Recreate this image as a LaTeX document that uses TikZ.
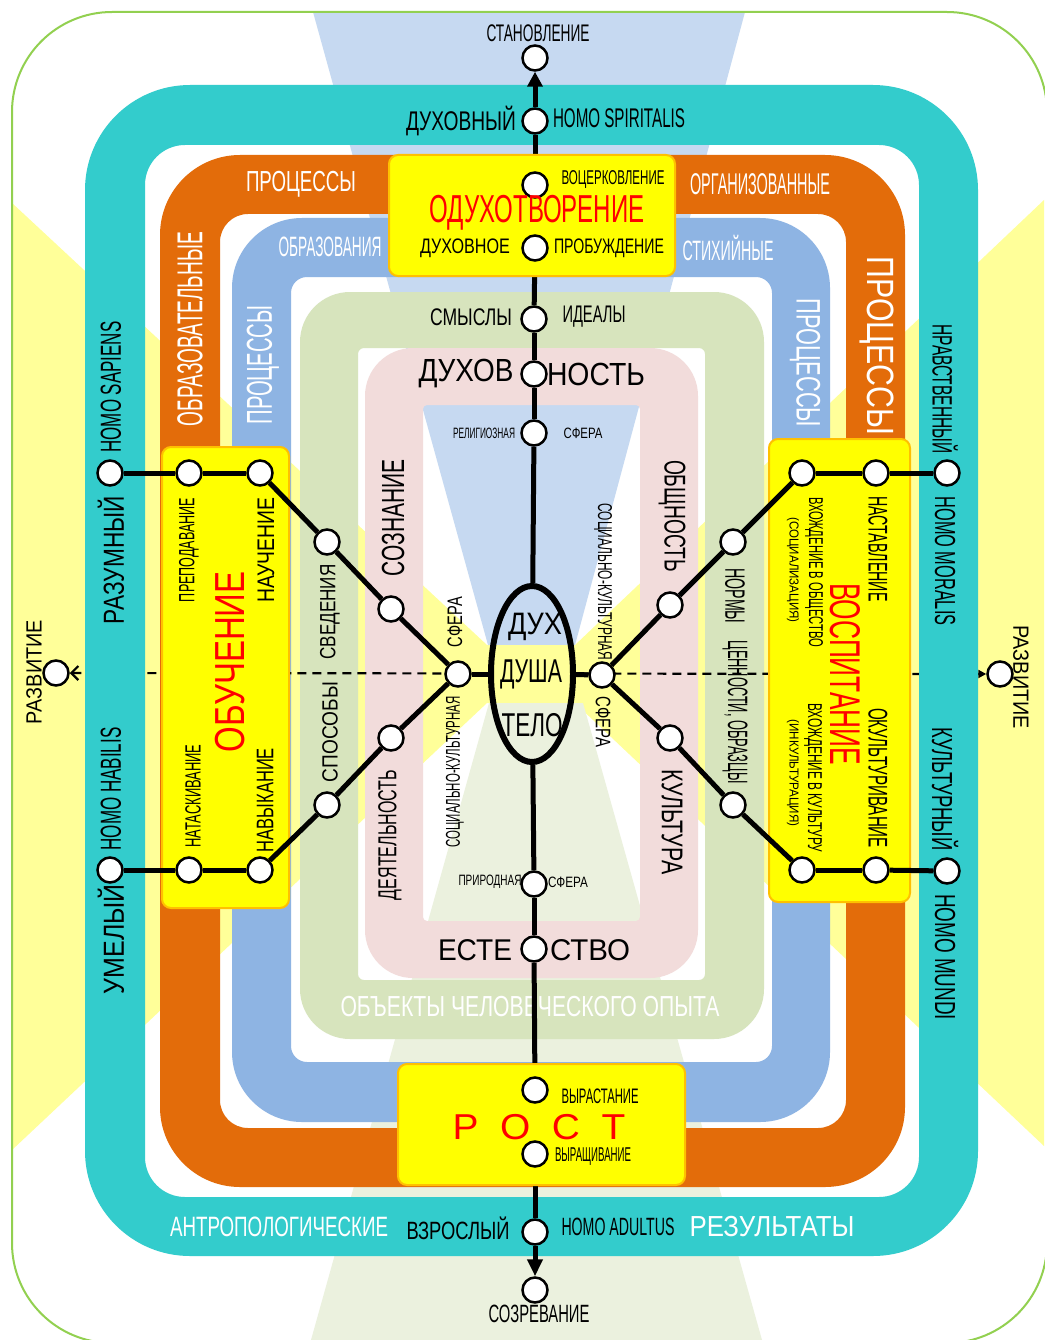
\documentclass[tikz,border=0pt]{standalone}
\usepackage{fontspec}
\setmainfont{Liberation Sans}
\usepackage{graphicx}
\usetikzlibrary{shapes.geometric,arrows.meta}
\definecolor{cteal}{HTML}{33CCCC}
\definecolor{corange}{HTML}{E36C0A}
\definecolor{cblue}{HTML}{8EB4E3}
\definecolor{cgreen}{HTML}{D7E4BD}
\definecolor{cpink}{HTML}{F2DCDB}
\definecolor{hblue}{HTML}{C6D9F1}
\definecolor{hgreen}{HTML}{EBF1DE}
\definecolor{pyel}{HTML}{FFFF99}
\definecolor{boxyel}{HTML}{FFFF00}
\definecolor{boxedge}{HTML}{FFC000}
\definecolor{ogreen}{HTML}{92D050}
\definecolor{tred}{HTML}{FF0000}
\newcommand\lbl[3]{{\fontsize{#2pt}{#2pt}\selectfont\resizebox{#1pt}{\height}{#3}}}
\pgfdeclarelayer{lzero}\pgfdeclarelayer{ldash}\pgfdeclarelayer{lteal}
\pgfdeclarelayer{lvert}\pgfdeclarelayer{lbox}\pgfdeclarelayer{lline}
\pgfsetlayers{lzero,ldash,lteal,lvert,lbox,lline,main}
\begin{document}
\begin{tikzpicture}[x=1pt,y=-1pt,
 txt/.style={inner sep=0pt,outer sep=0pt,anchor=center},
 wtxt/.style={txt,text=white},
 rtxt/.style={txt,text=tred},
 dot/.style={circle,draw=black,fill=white,line width=2.5pt,minimum size=25pt,inner sep=0pt},
 conn/.style={line width=5pt,black},
 ybox/.style={draw=boxedge,fill=boxyel,line width=2pt,rounded corners=9pt,inner sep=0pt}]
\useasboundingbox (0,0) rectangle (1044,1340);

% ---------------- background -----------------
\begin{pgfonlayer}{lzero}
\fill[white] (0,0) rectangle (1044,1340);
\fill[pyel] (12,203) -- (487,645) -- (575,645) -- (1044,200) -- (1044,1146) -- (575,703) -- (487,703) -- (12,1150) -- cycle;
\fill[hblue] (313,12) -- (745,12) -- (575,645) -- (488,645) -- cycle;
\fill[hgreen] (311,1340) -- (762,1340) -- (583,703) -- (489,703) -- cycle;
\draw[ogreen,line width=2pt,rounded corners=100pt] (12,12) rectangle (1047,1343);
\fill[corange,even odd rule,rounded corners=80pt] (160,155) rectangle (905,1187) [rounded corners=28pt] (220,214) rectangle (846,1128);
\fill[cblue,even odd rule,rounded corners=70pt] (232,218) rectangle (830,1122) [rounded corners=16pt] (291,277) rectangle (772,1062);
\fill[cgreen,even odd rule,rounded corners=50pt] (300,292) rectangle (764,1039) [rounded corners=6pt] (358,348) rectangle (705,980);
\fill[cpink,even odd rule,rounded corners=48pt] (365,348) rectangle (698,978) [rounded corners=4pt] (423,405) rectangle (640,921);
\node[wtxt] (t_obj) at (530,1007) {\lbl{379}{29}{ОБЪЕКТЫ ЧЕЛОВЕЧЕСКОГО ОПЫТА}};
\end{pgfonlayer}

\begin{pgfonlayer}{lteal}
\fill[cteal,even odd rule,rounded corners=105pt] (85,85) rectangle (978,1256) [rounded corners=40pt] (145,145) rectangle (919,1197);
\end{pgfonlayer}

% ---------------- boxes -----------------
\begin{pgfonlayer}{lbox}
\node[ybox,minimum width=286pt,minimum height=121pt] (b_top) at (532,215.5) {};
\node[ybox,minimum width=287pt,minimum height=121pt] (b_bot) at (541.5,1124.5) {};
\node[ybox,minimum width=127pt,minimum height=461pt] (b_left) at (225.5,677.5) {};
\node[ybox,minimum width=141pt,minimum height=463pt] (b_right) at (839.5,670.5) {};
\end{pgfonlayer}

% ---------------- ellipse -----------------
\begin{scope}
\clip (532,674) ellipse [x radius=41pt,y radius=88pt];
\fill[hblue] (480,570) rectangle (590,645);
\fill[pyel] (480,645) rectangle (590,703);
\fill[hgreen] (480,703) rectangle (590,780);
\end{scope}
\node[draw,ellipse,line width=6pt,minimum width=82pt,minimum height=176pt,inner sep=0pt] (el) at (532,674) {};

% ---------------- circles -----------------
\node[dot] (c_stan) at (535,58) {};
\node[dot] (c_duh) at (535,121) {};
\node[dot] (c_voc) at (535,185) {};
\node[dot] (c_dno) at (535,248) {};
\node[dot] (c_sm) at (534,319) {};
\node[dot] (c_dhn) at (534,374) {};
\node[dot] (c_rel) at (534,433) {};
\node[dot] (c_prir) at (534,884) {};
\node[dot] (c_est) at (534,949) {};
\node[dot] (c_vyr) at (535,1090) {};
\node[dot] (c_vyrsh) at (535,1154) {};
\node[dot] (c_vzr) at (535,1232) {};
\node[dot] (c_sozr) at (535,1290) {};

\node[dot] (c_razvl) at (56,673) {};
\node[dot] (c_raz) at (110,473) {};
\node[dot] (c_prep) at (189,473) {};
\node[dot] (c_nauch) at (260,473) {};
\node[dot] (c_sved) at (327,542) {};
\node[dot] (c_sozn) at (391,609) {};
\node[dot] (c_sfl) at (458,674) {};
\node[dot] (c_deyat) at (391,738) {};
\node[dot] (c_spos) at (327,805) {};
\node[dot] (c_navyk) at (260,870) {};
\node[dot] (c_natask) at (189,870) {};
\node[dot] (c_umel) at (110,870) {};

\node[dot] (c_razvr) at (1000,674) {};
\node[dot] (c_nrav) at (947,473) {};
\node[dot] (c_nast) at (876,473) {};
\node[dot] (c_vh1) at (802,473) {};
\node[dot] (c_norm) at (733,542) {};
\node[dot] (c_obsh) at (670,605) {};
\node[dot] (c_sfr) at (602,675) {};
\node[dot] (c_kult) at (670,738) {};
\node[dot] (c_cenn) at (733,805) {};
\node[dot] (c_vh2) at (802,870) {};
\node[dot] (c_okult) at (876,870) {};
\node[dot] (c_kultur) at (947,871) {};

% ---------------- connectors -----------------
\begin{pgfonlayer}{ldash}
\draw[line width=2.2pt,dash pattern=on 9pt off 6pt,{Straight Barb[length=7pt,width=14pt]}-{Triangle[length=8pt,width=8pt]}] (c_razvl) -- (c_razvr);
\end{pgfonlayer}

\begin{pgfonlayer}{lvert}
\draw[conn,-{Triangle[length=15pt,width=15pt]}] (c_duh) -- (c_stan);
\draw[conn] (c_duh) -- (c_voc);
\draw[conn] (c_voc) -- (c_dno);
\draw[conn] (c_dno) -- (c_sm);
\draw[conn] (c_sm) -- (c_dhn);
\draw[conn] (c_dhn) -- (c_rel);
\draw[conn] (c_rel) -- (el);
\draw[conn] (el) -- (c_prir);
\draw[conn] (c_prir) -- (c_est);
\draw[conn] (c_est) -- (c_vyr);
\draw[conn] (c_vyr) -- (c_vyrsh);
\draw[conn] (c_vyrsh) -- (c_vzr);
\draw[conn,-{Triangle[length=17pt,width=15pt]}] (c_vzr) -- (c_sozr);
\end{pgfonlayer}

\begin{pgfonlayer}{lline}
\draw[conn] (c_raz) -- (c_prep);
\draw[conn] (c_prep) -- (c_nauch);
\draw[conn] (c_nauch) -- (c_sved);
\draw[conn] (c_sved) -- (c_sozn);
\draw[conn] (c_sozn) -- (c_sfl);
\draw[conn] (c_sfl) -- (c_deyat);
\draw[conn] (c_deyat) -- (c_spos);
\draw[conn] (c_spos) -- (c_navyk);
\draw[conn] (c_navyk) -- (c_natask);
\draw[conn] (c_natask) -- (c_umel);
\draw[conn] (c_sfl) -- (el);
\draw[conn] (el) -- (c_sfr);
\draw[conn] (c_nrav) -- (c_nast);
\draw[conn] (c_nast) -- (c_vh1);
\draw[conn] (c_vh1) -- (c_norm);
\draw[conn] (c_norm) -- (c_obsh);
\draw[conn] (c_obsh) -- (c_sfr);
\draw[conn] (c_sfr) -- (c_kult);
\draw[conn] (c_kult) -- (c_cenn);
\draw[conn] (c_cenn) -- (c_vh2);
\draw[conn] (c_vh2) -- (c_okult);
\draw[conn] (c_okult) -- (c_kultur);
\end{pgfonlayer}

% ---------------- texts: vertical axis -----------------
\node[txt] (t1) at (538,33) {\lbl{103}{24}{СТАНОВЛЕНИЕ}};
\node[txt] (t2) at (461,121) {\lbl{110}{27}{ДУХОВНЫЙ}};
\node[txt] (t3) at (619,118) {\lbl{132}{27}{HOMO SPIRITALIS}};
\node[txt] (t4) at (613,180) {\lbl{103}{20}{ВОЦЕРКОВЛЕНИЕ}};
\node[rtxt] (t5) at (537,213) {\lbl{215}{39}{ОДУХОТВОРЕНИЕ}};
\node[txt] (t6) at (465,248) {\lbl{90}{21}{ДУХОВНОЕ}};
\node[txt] (t7) at (609,248) {\lbl{110}{21}{ПРОБУЖДЕНИЕ}};
\node[txt] (t8) at (471,317) {\lbl{82}{24}{СМЫСЛЫ}};
\node[txt] (t9) at (594,317) {\lbl{63}{24}{ИДЕАЛЫ}};
\node[txt] (t10) at (466,374) {\lbl{95}{32}{ДУХОВ}};
\node[txt] (t11) at (596,374) {\lbl{98}{32}{НОСТЬ}};
\node[txt] (t12) at (484,433) {\lbl{62}{15}{РЕЛИГИОЗНАЯ}};
\node[txt] (t13) at (583,433) {\lbl{39}{15}{СФЕРА}};
\node[txt] (t14) at (535,627) {\lbl{54}{31}{ДУХ}};
\node[txt] (t15) at (531,674) {\lbl{62}{33}{ДУША}};
\node[txt] (t16) at (532,725) {\lbl{61}{33}{ТЕЛО}};
\node[txt] (t17) at (490,882) {\lbl{63}{15}{ПРИРОДНАЯ}};
\node[txt] (t18) at (568,882) {\lbl{40}{15}{СФЕРА}};
\node[txt] (t19) at (475,950) {\lbl{74}{30}{ЕСТЕ}};
\node[txt] (t20) at (590,950) {\lbl{80}{30}{СТВО}};
\node[txt] (t21) at (600,1096) {\lbl{77}{21}{ВЫРАСТАНИЕ}};
\node[rtxt] (t22) at (539,1127) {\lbl{173}{36}{Р\hspace{20pt}О\hspace{20pt}С\hspace{20pt}Т}};
\node[txt] (t23) at (593,1157) {\lbl{76}{20}{ВЫРАЩИВАНИЕ}};
\node[wtxt] (t24) at (279,1227) {\lbl{218}{28}{АНТРОПОЛОГИЧЕСКИЕ}};
\node[txt] (t25) at (458,1228) {\lbl{103}{25}{ВЗРОСЛЫЙ}};
\node[txt] (t26) at (618,1227) {\lbl{113}{25}{HOMO ADULTUS}};
\node[wtxt] (t27) at (772,1227) {\lbl{165}{29}{РЕЗУЛЬТАТЫ}};
\node[txt] (t28) at (539,1314) {\lbl{101}{25}{СОЗРЕВАНИЕ}};

% ---------------- ring labels -----------------
\node[wtxt] (t29) at (301,184) {\lbl{110}{29}{ПРОЦЕССЫ}};
\node[wtxt] (t30) at (760,184) {\lbl{140}{30}{ОРГАНИЗОВАННЫЕ}};
\node[wtxt] (t31) at (330,247) {\lbl{103}{28}{ОБРАЗОВАНИЯ}};
\node[wtxt] (t32) at (728,248) {\lbl{91}{28}{СТИХИЙНЫЕ}};
\node[wtxt,rotate=90] (t33) at (190,329) {\lbl{194}{36}{ОБРАЗОВАТЕЛЬНЫЕ}};
\node[wtxt,rotate=90] (t34) at (263,365) {\lbl{119}{36}{ПРОЦЕССЫ}};
\node[wtxt,rotate=-90] (t35) at (877,346) {\lbl{178}{38}{ПРОЦЕССЫ}};
\node[wtxt,rotate=-90] (t36) at (805,363) {\lbl{128}{34}{ПРОЦЕССЫ}};

% ---------------- teal side labels -----------------
\node[txt,rotate=90] (t37) at (111,387) {\lbl{131}{29}{HOMO SAPIENS}};
\node[txt,rotate=90] (t38) at (111,560) {\lbl{128}{29}{РАЗУМНЫЙ}};
\node[txt,rotate=90] (t39) at (111,789) {\lbl{123}{29}{HOMO HABILIS}};
\node[txt,rotate=90] (t40) at (111,939) {\lbl{110}{29}{УМЕЛЫЙ}};
\node[txt,rotate=-90] (t41) at (945,389) {\lbl{129}{28}{НРАВСТВЕННЫЙ}};
\node[txt,rotate=-90] (t42) at (945,561) {\lbl{129}{29}{HOMO MORALIS}};
\node[txt,rotate=-90] (t43) at (945,789) {\lbl{123}{29}{КУЛЬТУРНЫЙ}};
\node[txt,rotate=-90] (t44) at (945,957) {\lbl{126}{29}{HOMO MUNDI}};
\node[txt,rotate=90] (t45) at (34,672) {\lbl{104}{22}{РАЗВИТИЕ}};
\node[txt,rotate=-90] (t46) at (1021,677) {\lbl{104}{22}{РАЗВИТИЕ}};

% ---------------- left box and left side -----------------
\node[txt,rotate=90] (t47) at (189,550) {\lbl{104}{22}{ПРЕПОДАВАНИЕ}};
\node[txt,rotate=90] (t48) at (266,550) {\lbl{105}{24}{НАУЧЕНИЕ}};
\node[rtxt,rotate=90] (t49) at (230,662) {\lbl{181}{42}{ОБУЧЕНИЕ}};
\node[txt,rotate=90] (t50) at (193,796) {\lbl{103}{22}{НАТАСКИВАНИЕ}};
\node[txt,rotate=90] (t51) at (265,800) {\lbl{104}{24}{НАВЫКАНИЕ}};
\node[txt,rotate=90] (t52) at (330,612) {\lbl{95}{22}{СВЕДЕНИЯ}};
\node[txt,rotate=90] (t53) at (330,732) {\lbl{100}{22}{СПОСОБЫ}};
\node[txt,rotate=90] (t54) at (393,518) {\lbl{117}{32}{СОЗНАНИЕ}};
\node[txt,rotate=90] (t55) at (390,835) {\lbl{130}{26}{ДЕЯТЕЛЬНОСТЬ}};
\node[txt,rotate=90] (t56) at (455,622) {\lbl{50}{21}{СФЕРА}};
\node[txt,rotate=90] (t57) at (455,772) {\lbl{151}{20}{СОЦИАЛЬНО-КУЛЬТУРНАЯ}};

% ---------------- right box and right side -----------------
\node[txt,rotate=-90] (t58) at (878,549) {\lbl{105}{27}{НАСТАВЛЕНИЕ}};
\node[txt,rotate=-90] (t59) at (814,572) {\lbl{150}{20}{ВХОЖДЕНИЕ В ОБЩЕСТВО}};
\node[txt,rotate=-90] (t60) at (793,570) {\lbl{105}{13}{(СОЦИАЛИЗАЦИЯ)}};
\node[rtxt,rotate=-90] (t61) at (845,674) {\lbl{182}{43}{ВОСПИТАНИЕ}};
\node[txt,rotate=-90] (t62) at (878,778) {\lbl{140}{27}{ОКУЛЬТУРИВАНИЕ}};
\node[txt,rotate=-90] (t63) at (813,778) {\lbl{149}{20}{ВХОЖДЕНИЕ В КУЛЬТУРУ}};
\node[txt,rotate=-90] (t64) at (793,773) {\lbl{107}{13}{(ИНКУЛЬТУРАЦИЯ)}};
\node[txt,rotate=-90] (t65) at (735,596) {\lbl{55}{28}{НОРМЫ}};
\node[txt,rotate=-90] (t66) at (735,712) {\lbl{143}{28}{ЦЕННОСТИ, ОБРАЗЦЫ}};
\node[txt,rotate=-90] (t67) at (672,516) {\lbl{112}{30}{ОБЩНОСТЬ}};
\node[txt,rotate=-90] (t68) at (672,822) {\lbl{105}{30}{КУЛЬТУРА}};
\node[txt,rotate=-90] (t69) at (603,582) {\lbl{157}{20}{СОЦИАЛЬНО-КУЛЬТУРНАЯ}};
\node[txt,rotate=-90] (t70) at (603,722) {\lbl{51}{21}{СФЕРА}};
\end{tikzpicture}
\end{document}
